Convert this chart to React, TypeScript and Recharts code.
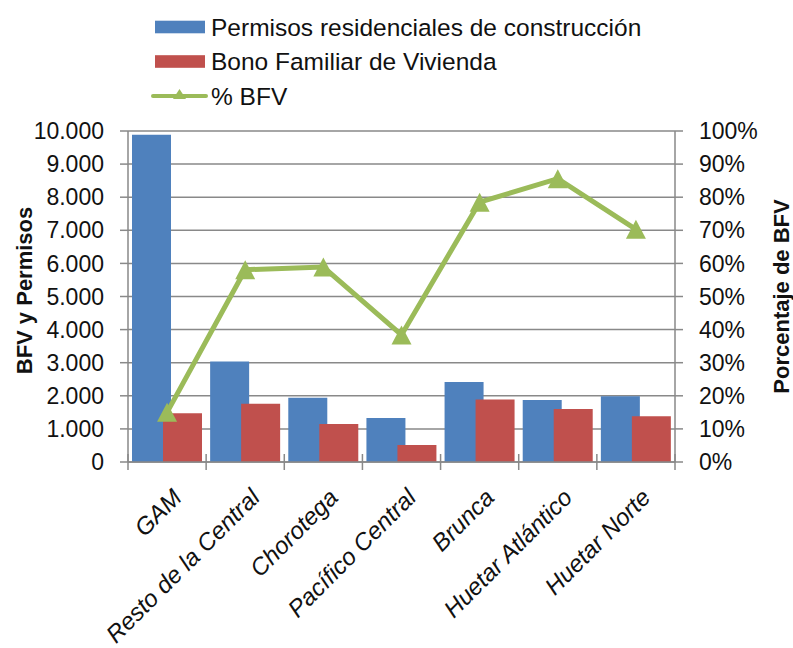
import React from 'react';
import { ComposedChart, Bar, Line, XAxis, YAxis, CartesianGrid, Legend } from 'recharts';

const categories = ['GAM', 'Resto de la Central', 'Chorotega', 'Pacífico Central', 'Brunca', 'Huetar Atlántico', 'Huetar Norte'];
const permisos = [9890, 3040, 1940, 1330, 2420, 1870, 1985];
const bono = [1470, 1760, 1150, 510, 1890, 1600, 1380];
const pctBFV = [0.15, 0.581, 0.589, 0.384, 0.785, 0.856, 0.703];
const leftTicks = [0, 1000, 2000, 3000, 4000, 5000, 6000, 7000, 8000, 9000, 10000];
const rightTicks = [0, 0.1, 0.2, 0.3, 0.4, 0.5, 0.6, 0.7, 0.8, 0.9, 1];
const legendOrder = ['permisos', 'bono', 'pct'];

const data = categories.map((name, i) => ({ name, permisos: permisos[i], bono: bono[i], pct: pctBFV[i] }));

const FONT = "'Liberation Sans', Arial, sans-serif";
const AXIS = '#898989';
const TEXT = '#111111';
const BLUE = '#4F81BD';
const RED = '#C0504D';
const GREEN = '#9BBB59';

const fmtThousands = (v: number) => String(v).replace(/\B(?=(\d{3})+(?!\d))/g, '.');
const fmtPct = (v: number) => `${Math.round(v * 100)}%`;

const Triangle = (props: any) => {
  const { cx, cy } = props;
  if (cx == null || cy == null) return null;
  return <polygon points={`${cx},${cy - 9.5} ${cx + 10},${cy + 9.5} ${cx - 10},${cy + 9.5}`} fill={GREEN} />;
};

const XTick = (props: any) => {
  const { x, y, payload, index } = props;
  const half = payload && payload.offset ? payload.offset : 547 / 7 / 2;
  const tx = x + 16;
  const ty = y + 37;
  return (
    <g>
      <line x1={x - half} x2={x - half} y1={y - 8} y2={y + 8} stroke={AXIS} strokeWidth={1.5} />
      {index === categories.length - 1 && (
        <line x1={x + half} x2={x + half} y1={y - 8} y2={y + 8} stroke={AXIS} strokeWidth={1.5} />
      )}
      <text
        x={tx}
        y={ty}
        transform={`rotate(-45 ${tx} ${ty})`}
        textAnchor="end"
        fontStyle="italic"
        fontSize={24}
        fontFamily={FONT}
        fill={TEXT}
      >
        {payload.value}
      </text>
    </g>
  );
};

const LegendContent = (props: any) => {
  const payload = [...(props.payload || [])].sort(
    (a: any, b: any) => legendOrder.indexOf(a.dataKey) - legendOrder.indexOf(b.dataKey)
  );
  return (
    <svg width={720} height={115} style={{ display: 'block' }}>
      {payload.map((p: any, i: number) => {
        const cy = 27 + 34.5 * i;
        const isLine = p.dataKey === 'pct';
        return (
          <g key={i}>
            {isLine ? (
              <g>
                <line x1={153} x2={206} y1={cy} y2={cy} stroke={p.color} strokeWidth={4} strokeLinecap="round" />
                <polygon points={`${179.5},${cy - 7} ${186},${cy + 3} ${173},${cy + 3}`} fill={p.color} />
              </g>
            ) : (
              <rect x={155} y={cy - 6.3} width={50} height={12.6} fill={p.color} />
            )}
            <text x={211} y={cy} dominantBaseline="central" fontSize={24.5} fontFamily={FONT} fill={TEXT}>
              {p.value}
            </text>
          </g>
        );
      })}
    </svg>
  );
};

const LeftTitle = (props: any) => {
  const vb = props.viewBox || { x: 0, y: 131, width: 128, height: 331 };
  const cx = vb.x + 24;
  const cy = vb.y + vb.height / 2 - 6;
  return (
    <text
      x={cx}
      y={cy}
      transform={`rotate(-90 ${cx} ${cy})`}
      textAnchor="middle"
      dominantBaseline="central"
      fontSize={22}
      fontWeight="bold"
      fontFamily={FONT}
      fill={TEXT}
    >
      BFV y Permisos
    </text>
  );
};

const RightTitle = (props: any) => {
  const vb = props.viewBox || { x: 675, y: 131, width: 118, height: 331 };
  const cx = vb.x + 106;
  const cy = vb.y + vb.height / 2;
  return (
    <text
      x={cx}
      y={cy}
      transform={`rotate(-90 ${cx} ${cy})`}
      textAnchor="middle"
      dominantBaseline="central"
      fontSize={22}
      fontWeight="bold"
      fontFamily={FONT}
      fill={TEXT}
    >
      Porcentaje de BFV
    </text>
  );
};

export default function App() {
  return (
    <div style={{ position: 'absolute', left: 0, top: 0, width: 793, height: 648, background: '#fff' }}>
      <ComposedChart
        width={793}
        height={648}
        data={data}
        margin={{ top: 131, right: 0, bottom: 0, left: 0 }}
        barGap={-8}
        barCategoryGap={4}
      >
        <CartesianGrid yAxisId="left" horizontal vertical={false} stroke={AXIS} strokeWidth={1.5} />
        <XAxis
          dataKey="name"
          interval={0}
          height={186}
          tickSize={0}
          tickMargin={0}
          tickLine={false}
          axisLine={{ stroke: AXIS, strokeWidth: 1.5 }}
          tick={<XTick />}
        />
        <YAxis
          yAxisId="left"
          orientation="left"
          width={128}
          domain={[0, 10000]}
          ticks={leftTicks}
          interval={0}
          tickFormatter={fmtThousands}
          tickSize={8}
          tickMargin={16}
          tickLine={{ stroke: AXIS, strokeWidth: 1.5 }}
          axisLine={{ stroke: AXIS, strokeWidth: 1.5 }}
          tick={{ fill: TEXT, fontSize: 23, fontFamily: FONT }}
          label={{ content: <LeftTitle /> }}
        />
        <YAxis
          yAxisId="right"
          orientation="right"
          width={118}
          domain={[0, 1]}
          ticks={rightTicks}
          interval={0}
          tickFormatter={fmtPct}
          tickSize={8}
          tickMargin={16}
          tickLine={{ stroke: AXIS, strokeWidth: 1.5 }}
          axisLine={{ stroke: AXIS, strokeWidth: 1.5 }}
          tick={{ fill: TEXT, fontSize: 23, fontFamily: FONT }}
          label={{ content: <RightTitle /> }}
        />
        <Legend
          layout="vertical"
          align="center"
          verticalAlign="middle"
          wrapperStyle={{ position: 'absolute', left: 0, top: 0, width: 720, height: 115 }}
          content={<LegendContent />}
        />
        <Bar yAxisId="left" dataKey="permisos" name="Permisos residenciales de construcción" fill={BLUE} isAnimationActive={false} />
        <Bar yAxisId="left" dataKey="bono" name="Bono Familiar de Vivienda" fill={RED} isAnimationActive={false} />
        <Line
          yAxisId="right"
          dataKey="pct"
          name="% BFV"
          type="linear"
          stroke={GREEN}
          strokeWidth={5}
          dot={<Triangle />}
          activeDot={false}
          legendType="line"
          isAnimationActive={false}
        />
      </ComposedChart>
    </div>
  );
}
